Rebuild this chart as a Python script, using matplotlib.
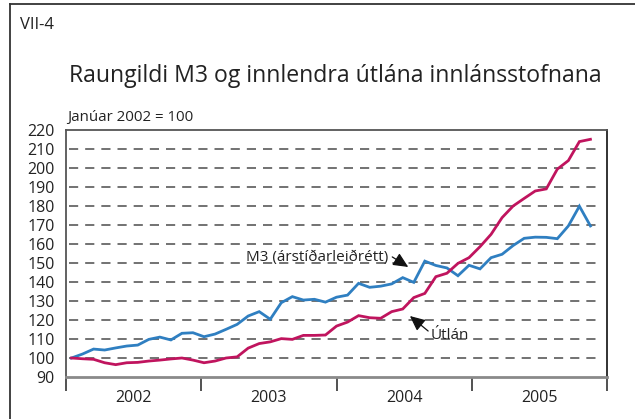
import numpy as np
import matplotlib
matplotlib.use("Agg")
import matplotlib.pyplot as plt
from matplotlib.lines import Line2D

plt.rcParams['font.family'] = ['Open Sans', 'DejaVu Sans']

# Monthly index values, January 2002 = 100 (Jan 2002 - Dec 2005)
m3 = [100.0, 102.1, 104.7, 104.2, 105.3, 106.3, 106.8, 109.8, 111.0, 109.5, 113.0, 113.3,
      111.2, 112.6, 115.1, 117.7, 122.1, 124.4, 120.4, 129.1, 132.3, 130.5, 130.9, 129.4,
      132.0, 133.1, 139.3, 137.2, 137.8, 139.0, 142.3, 139.8, 151.0, 148.7, 147.4, 143.3,
      148.8, 146.9, 152.8, 154.6, 159.2, 163.0, 163.6, 163.5, 162.8, 169.5, 179.9, 169.5]
utlan = [100.0, 99.6, 99.3, 97.5, 96.5, 97.5, 97.7, 98.4, 98.9, 99.5, 100.0, 98.9,
         97.5, 98.4, 100.0, 100.6, 105.2, 107.6, 108.5, 110.2, 109.8, 111.9, 111.9, 112.1,
         116.8, 118.9, 122.3, 121.2, 120.9, 124.4, 125.8, 131.8, 134.0, 142.8, 144.6, 149.8,
         152.8, 158.6, 165.1, 173.9, 180.0, 184.0, 187.9, 189.0, 199.4, 203.9, 213.9, 215.1]
years = ['2002', '2003', '2004', '2005']
y_ticks = list(range(90, 221, 10))

BLUE = '#2f7fc1'
RED = '#c0145e'
GRID = '#5a5a5a'
TXT = '#222222'

fig = plt.figure(figsize=(6.35, 4.19), dpi=100)
fig.patch.set_facecolor('white')

# Outer frame (top and left edges)
fig.add_artist(Line2D([9.5 / 635, 1.0], [1 - 4.5 / 419, 1 - 4.5 / 419],
                      transform=fig.transFigure, color='#333333', lw=1.3))
fig.add_artist(Line2D([9.5 / 635, 9.5 / 635], [0.0, 1 - 4.5 / 419],
                      transform=fig.transFigure, color='#333333', lw=1.3))

fig.text(20 / 635, 1 - 25 / 419, 'VII-4', fontsize=12, color=TXT,
         ha='left', va='center')
fig.text(335 / 635, 1 - 76 / 419, 'Raungildi M3 og innlendra útlána innlánsstofnana',
         fontsize=16.6, color=TXT, ha='center', va='center')
fig.text(67 / 635, 1 - 117 / 419, 'Janúar 2002 = 100', fontsize=10.8, color=TXT,
         ha='left', va='center')

ax = fig.add_axes([66 / 635, 1 - 377 / 419, 541 / 635, 247 / 419])

n = len(m3)
n_slots = n + 1
x = np.arange(n) + 0.5

# Dashed horizontal gridlines
for v in y_ticks[1:-1]:
    ax.axhline(v, color=GRID, lw=1.2, ls=(0, (5.5, 4.2)), zorder=1,
               xmin=0.005, xmax=0.99)

ax.plot(x, m3, color=BLUE, lw=2.0, zorder=3, solid_joinstyle='miter')
ax.plot(x, utlan, color=RED, lw=2.0, zorder=3, solid_joinstyle='miter')

ax.set_xlim(0, n_slots)
ax.set_ylim(90, 220)
ax.set_yticks(y_ticks)
ax.tick_params(axis='y', length=0, labelsize=11.5, pad=8, colors=TXT)

bounds = np.linspace(0, n_slots, len(years) + 1)
ax.set_xticks(bounds)
ax.set_xticklabels([])
ax.set_xticks((bounds[:-1] + bounds[1:]) / 2, minor=True)
ax.set_xticklabels(years, minor=True)
ax.tick_params(axis='x', which='major', direction='out', length=10, width=1.2,
               color='#333333')
ax.tick_params(axis='x', which='minor', length=0, labelsize=11.5, pad=9,
               colors=TXT)

for side, sp in ax.spines.items():
    sp.set_color('#555555')
    sp.set_linewidth(1.3)
ax.spines['bottom'].set_color('#8a8a8a')
ax.spines['bottom'].set_linewidth(2.0)
ax.spines['right'].set_color('#222222')

# Series labels with pointer arrows
arrow = dict(arrowstyle='-|>,head_length=0.65,head_width=0.3',
             color='#111111', lw=0.9, shrinkA=0, shrinkB=0, mutation_scale=14)
ax.text(29.2, 152.7, 'M3 (árstíðarleiðrétt)', ha='right', va='center',
        fontsize=11, color=TXT)
ax.annotate('', xy=(31.0, 147.9), xytext=(29.55, 153.2), arrowprops=arrow)
ax.text(33.05, 111.6, 'Útlán', ha='left', va='center', fontsize=11, color=TXT)
ax.annotate('', xy=(31.15, 122.1), xytext=(32.8, 114.2), arrowprops=arrow)

fig.savefig('out.png', dpi=100)
